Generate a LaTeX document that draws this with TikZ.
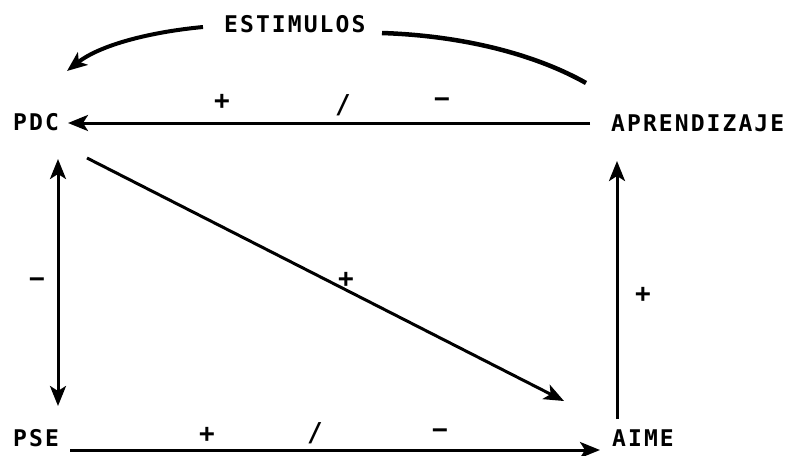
\documentclass[tikz,border=0pt]{standalone}
\usepackage{fontspec}
\usetikzlibrary{arrows.meta}
\newfontfamily\plotfont[LetterSpace=9]{DejaVu Sans Mono}

\begin{document}
\begin{tikzpicture}[x=1pt,y=-1pt,
  lbl/.style={font=\plotfont\bfseries\fontsize{23}{23}\selectfont,inner sep=0pt,anchor=west},
  sgn/.style={font=\plotfont\bfseries\fontsize{26}{26}\selectfont,inner sep=0pt},
  tip/.style={-{Stealth[length=20pt,width=16pt,inset=5pt]}},
  con/.style={line width=3pt,tip},
  twoway/.style={line width=3pt,{Stealth[length=20pt,width=16pt,inset=5pt]}-{Stealth[length=20pt,width=16pt,inset=5pt]}}]
  \useasboundingbox (0,0) rectangle (789,455);
  % labels
  \node[lbl] (est) at (224,24) {ESTIMULOS};
  \node[lbl] (pdc) at (13,122) {PDC};
  \node[lbl] (apr) at (611,123) {APRENDIZAJE};
  \node[lbl] (pse) at (13,438) {PSE};
  \node[lbl] (aime) at (612,438) {AIME};
  % arrow ends
  \coordinate (estL) at (203,27);
  \coordinate (estR) at (382,33);
  \coordinate (pdcNE) at (67,71);
  \coordinate (aprNW) at (586,83);
  \coordinate (pdcE) at (68,123);
  \coordinate (aprW) at (590,123);
  \coordinate (pdcS) at (58,159);
  \coordinate (pseN) at (58,406);
  \coordinate (pdcSE) at (87,158);
  \coordinate (aimeNW) at (564,401);
  \coordinate (aimeN) at (617,419);
  \coordinate (aprS) at (617,161);
  \coordinate (pseE) at (70,450);
  \coordinate (aimeW) at (600,450);
  % connectors
  \draw[con,line width=4pt] (estL) .. controls (150,32) and (100,45) .. (pdcNE);
  \draw[line width=4.5pt] (estR) .. controls (470,36) and (540,57) .. (aprNW);
  \draw[con] (aprW) -- (pdcE);
  \draw[twoway] (pdcS) -- (pseN);
  \draw[con] (pdcSE) -- (aimeNW);
  \draw[con] (aimeN) -- (aprS);
  \draw[con] (pseE) -- (aimeW);
  % signs
  \node[sgn] (s1) at (222,102) {+};
  \node[sgn] (s2) at (343,105) {/};
  \node[sgn] (s3) at (442,103) {−};
  \node[sgn] (s4) at (37,283) {−};
  \node[sgn] (s5) at (346,280) {+};
  \node[sgn] (s6) at (643,295) {+};
  \node[sgn] (s7) at (207,435) {+};
  \node[sgn] (s8) at (315,433) {/};
  \node[sgn] (s9) at (440,434) {−};
\end{tikzpicture}
\end{document}
